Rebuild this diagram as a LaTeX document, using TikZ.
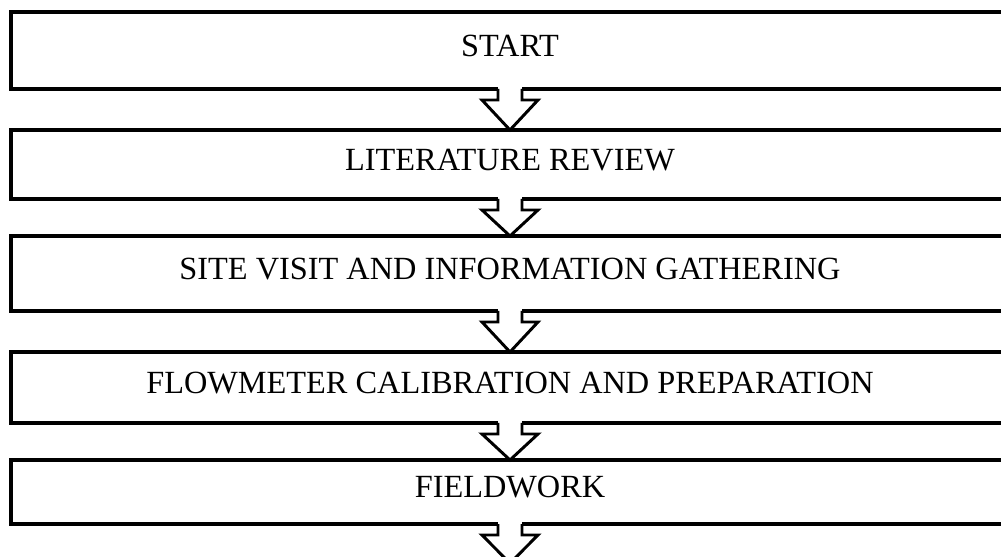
\documentclass[tikz,border=0pt]{standalone}
\usepackage{fontspec}
\setmainfont{Liberation Serif}
\usetikzlibrary{calc,positioning}
\tikzset{
   stage/.style={rectangle, draw, line width=2.2pt, inner sep=0pt, outer sep=0pt,
                 minimum width=998*0.025cm, text depth=7pt, font=\fontsize{23}{27}\selectfont},
   flow/.style={draw=black, fill=white, line width=2.1pt, line join=miter},
}

\begin{document}
\begin{tikzpicture}[x=0.025cm, y=-0.025cm]
  \useasboundingbox (0,0) rectangle (1001,557);
  \clip (0,0) rectangle (1001,557);

  \node [stage, minimum height=77*0.025cm] (start) at (510,50.5) {START};
  \node [stage, minimum height=69*0.025cm] (lit) at (510,164.5) {LITERATURE REVIEW};
  \node [stage, minimum height=75*0.025cm] (site) at (510,273.5) {SITE VISIT AND INFORMATION GATHERING};
  \node [stage, minimum height=71*0.025cm] (flowm) at (510,387.5) {FLOWMETER CALIBRATION AND PREPARATION};
  \node [stage, minimum height=64*0.025cm] (field) at (510,492) {FIELDWORK};
  \node [inner sep=0pt, outer sep=0pt] (end) at (510,564) {};

  % block arrows between the stages
  \foreach \a/\b in {start/lit, lit/site, site/flowm, flowm/field, field/end} {
    \fill [white] ($(\a.south)+(-12,-3)$) rectangle ($(\a.south)+(12,11)$);
    \filldraw [flow] ($(\a.south)+(-12,0)$) -- ++(0,11) -- ++(-16,0) -- (\b.north)
      -- ($(\a.south)+(28,11)$) -- ++(-16,0) -- ++(0,-11);
  }
\end{tikzpicture}
\end{document}
